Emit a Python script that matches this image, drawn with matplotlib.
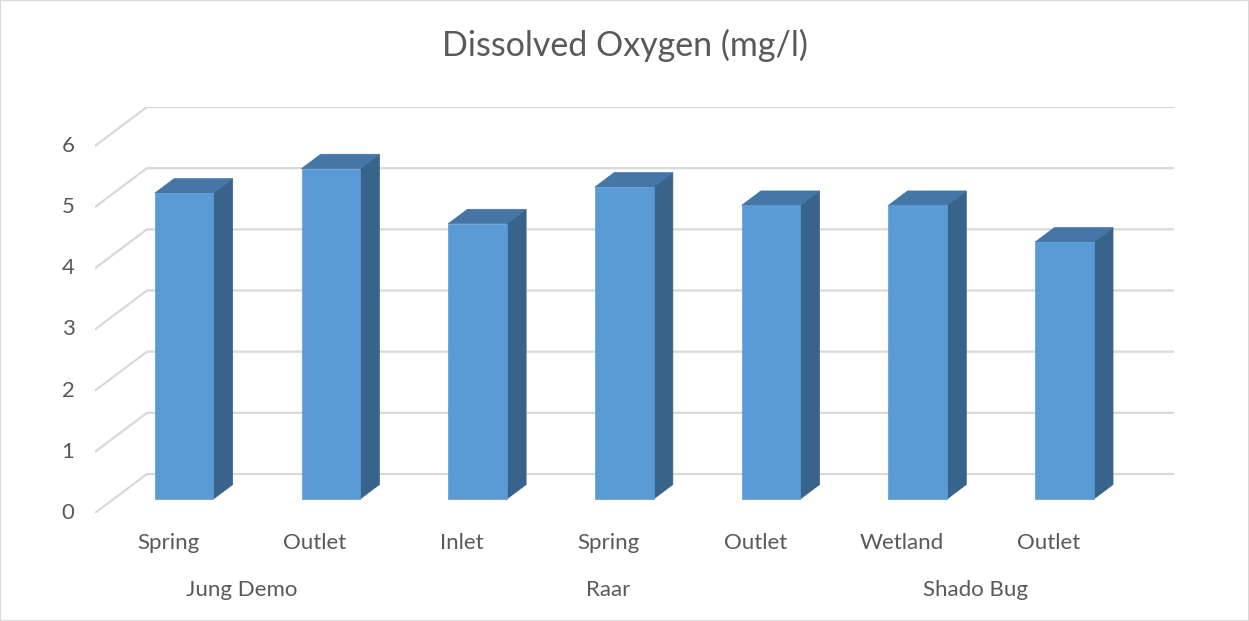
import matplotlib
matplotlib.use("Agg")
import matplotlib.pyplot as plt
from matplotlib.patches import Polygon, Rectangle

# Dissolved oxygen readings per site
sites = ["Spring", "Outlet", "Inlet", "Spring", "Outlet", "Wetland", "Outlet"]
oxygen = [5.0, 5.4, 4.5, 5.1, 4.8, 4.8, 4.2]
groups = ["Jung Demo", "Raar", "Shado Bug"]
group_sizes = [2, 3, 2]
yticks = [0, 1, 2, 3, 4, 5, 6]

# oblique depth vector (x in category units, y in value units)
DX, DY = 0.354, 0.637
BAR_LEFT, BAR_W = 0.28, 0.40
D0, D1 = 0.36, 0.73  # bar front / back depth fraction

FRONT = "#5b9bd5"
TOP = "#4676a6"
SIDE = "#38638a"
GRID = "#d9d9d9"
TXT = "#595959"

plt.rcParams["font.family"] = ["Lato", "DejaVu Sans"]

fig = plt.figure(figsize=(12.49, 6.21), dpi=100)
fig.patches.append(Rectangle((0, 0), 1, 1, transform=fig.transFigure,
                             fill=False, edgecolor=GRID, linewidth=1.5))
ax = fig.add_axes([95 / 1249, 1 - 513 / 621, 1079 / 1249, 406 / 621])
n = len(sites)
ymax = max(yticks)
ax.set_xlim(0, n + DX)
ax.set_ylim(0, ymax + DY)
ax.axis("off")


def proj(x, v, d):
    return (x + DX * d, v + DY * d)


# wall gridlines: diagonal on the side wall, then along the back wall
for t in yticks:
    pts = [proj(0, t, 0), proj(0, t, 1), proj(n, t, 1)]
    ax.plot([p[0] for p in pts], [p[1] for p in pts], color=GRID, lw=1.6,
            zorder=1, solid_capstyle="butt")
    ax.text(-0.184, t, str(t), ha="center", va="center", fontsize=16,
            color=TXT, clip_on=False)

# 3D columns
for i, v in enumerate(oxygen):
    x0 = i + BAR_LEFT
    x1 = x0 + BAR_W
    front = [proj(x0, 0, D0), proj(x1, 0, D0), proj(x1, v, D0), proj(x0, v, D0)]
    top = [proj(x0, v, D0), proj(x1, v, D0), proj(x1, v, D1), proj(x0, v, D1)]
    side = [proj(x1, 0, D0), proj(x1, 0, D1), proj(x1, v, D1), proj(x1, v, D0)]
    ax.add_patch(Polygon(side, closed=True, facecolor=SIDE, edgecolor=SIDE,
                         lw=0.5, zorder=3))
    ax.add_patch(Polygon(top, closed=True, facecolor=TOP, edgecolor=TOP,
                         lw=0.5, zorder=3))
    ax.add_patch(Polygon(front, closed=True, facecolor=FRONT, edgecolor=FRONT,
                         lw=0.5, zorder=4))
    ax.text(i + 0.5, -0.49, sites[i], ha="center", va="center", fontsize=16,
            color=TXT, clip_on=False)

# group labels under their categories
start = 0
for g, size in zip(groups, group_sizes):
    ax.text(start + size / 2, -1.26, g, ha="center", va="center",
            fontsize=16, color=TXT, clip_on=False)
    start += size

fig.text(0.5, 1 - 45 / 621, "Dissolved Oxygen (mg/l)", ha="center",
         va="center", fontsize=24.5, color=TXT)

fig.savefig("out.png", dpi=100)
